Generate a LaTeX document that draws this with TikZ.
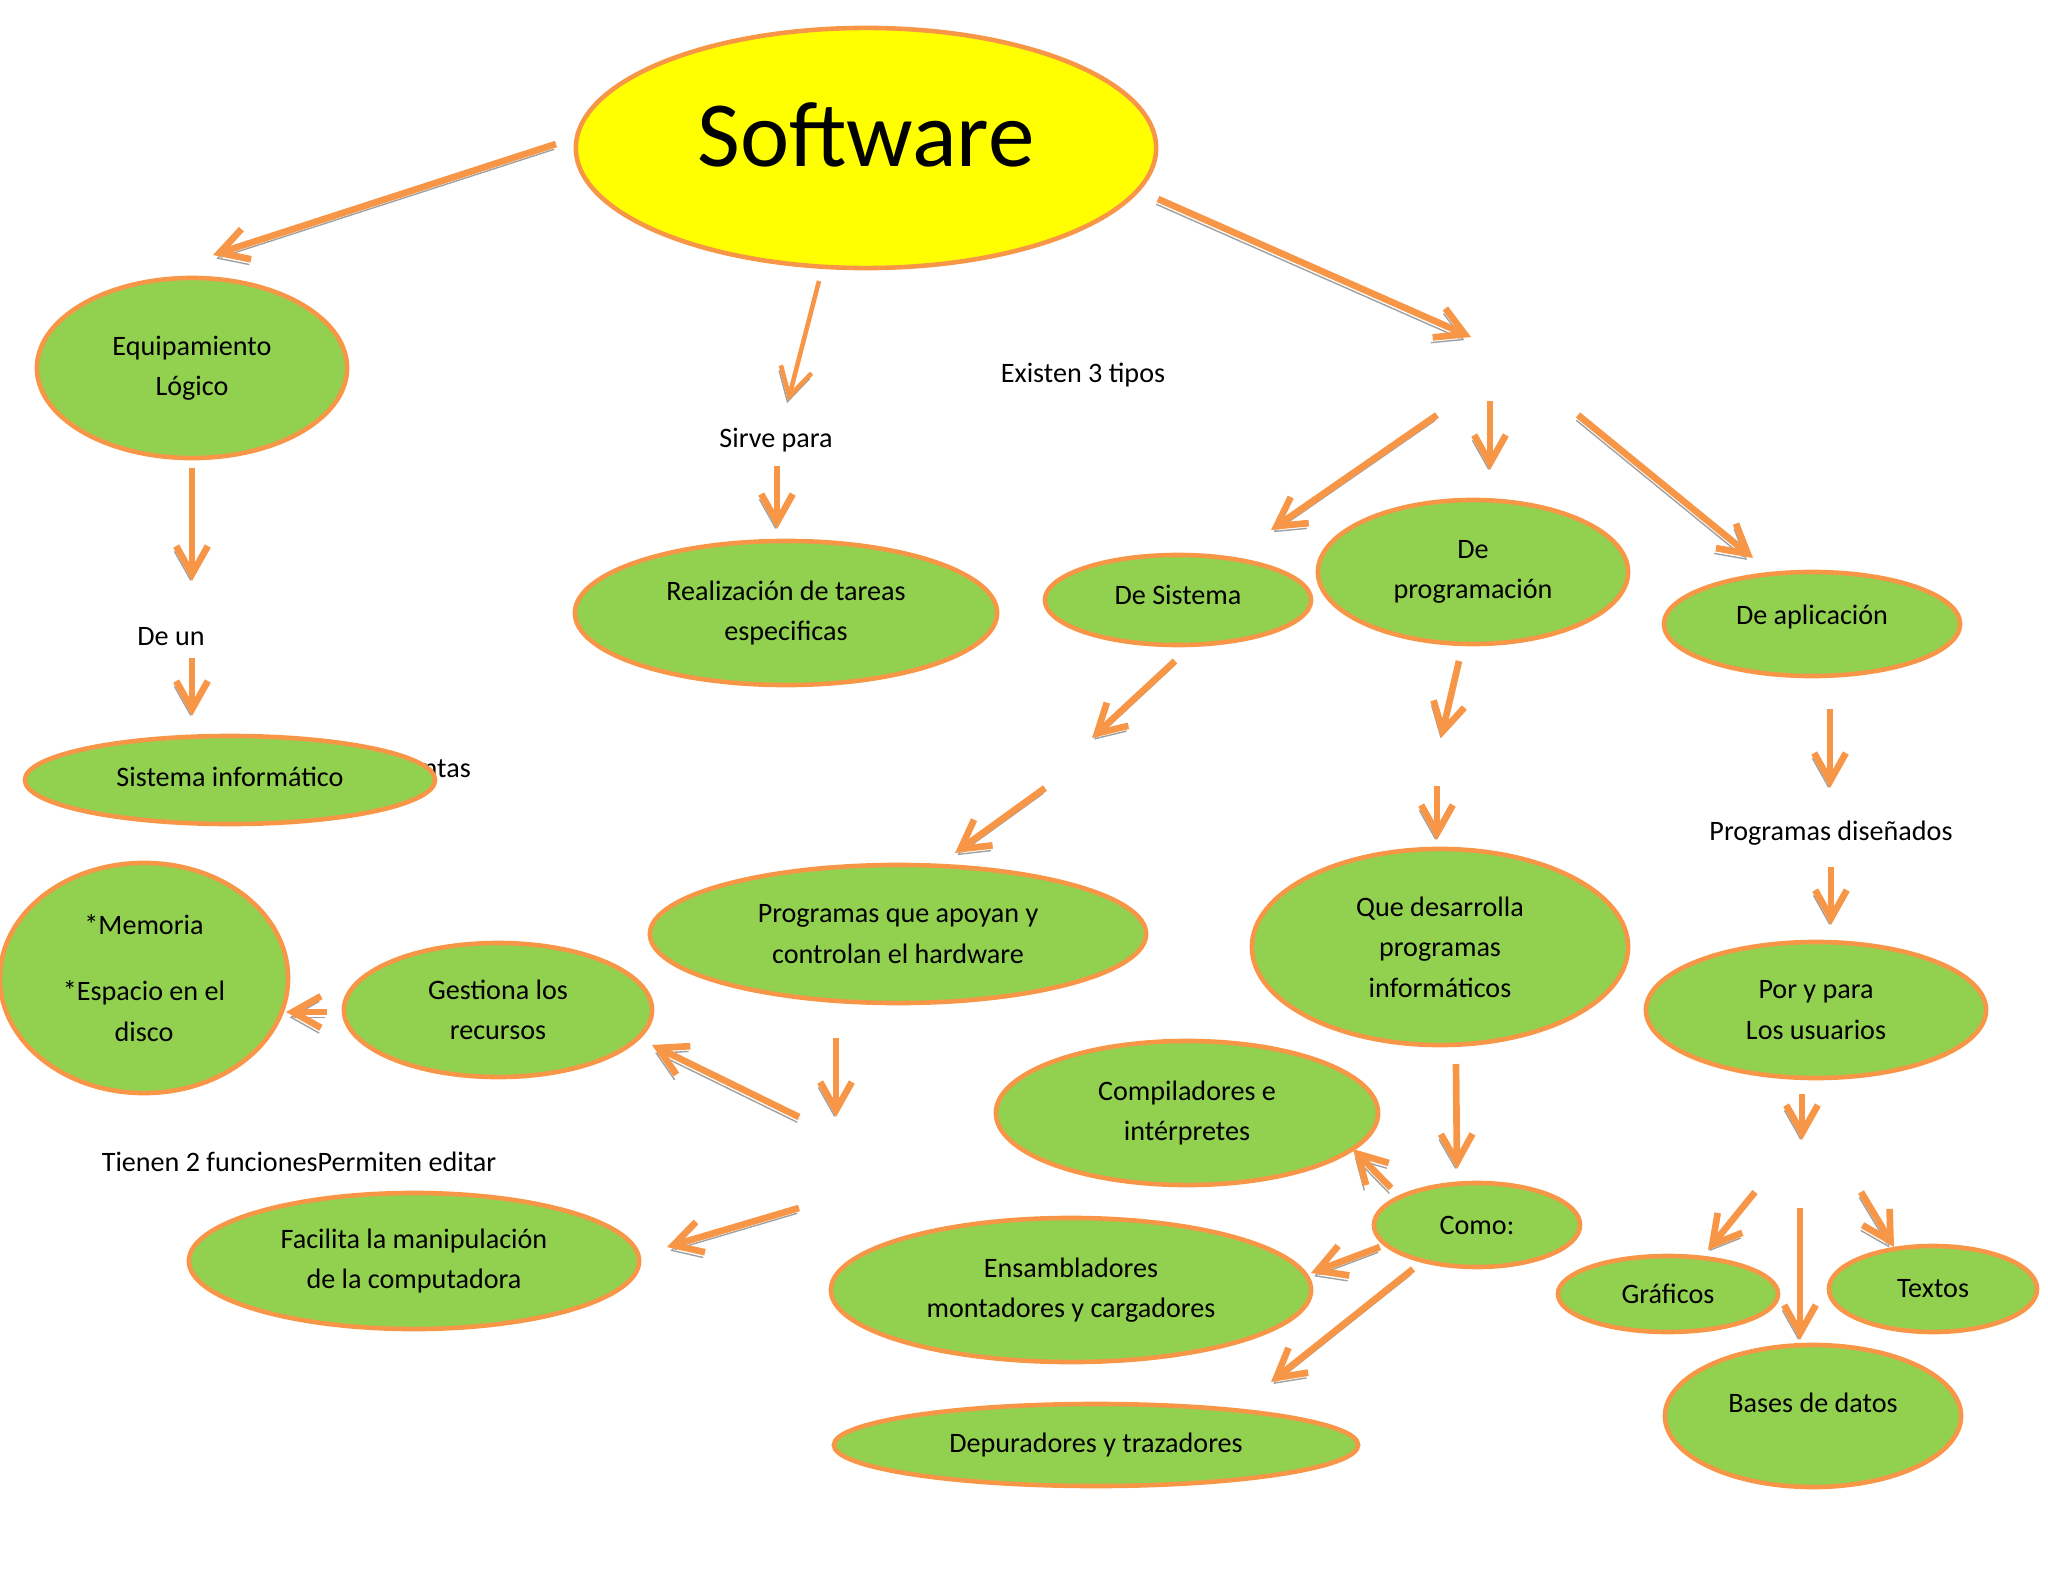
\documentclass[tikz,border=0pt]{standalone}
\usepackage{fontspec}
\setmainfont{Carlito}
\usetikzlibrary{positioning,arrows.meta,shapes.geometric}

\definecolor{leafgreen}{HTML}{92D050}
\definecolor{rimorange}{HTML}{F79646}
\definecolor{sunyellow}{HTML}{FFFF00}
\definecolor{shadowgray}{HTML}{A0A0A0}

% lift the text inside a bubble without moving the bubble
\newcommand{\lifted}[2]{\raisebox{#1}[\height][\depth]{#2}}

\begin{document}
\begin{tikzpicture}[
        x=0.01cm, y=-0.01cm,
        font=\fontsize{8}{11.5}\selectfont,
        barb/.tip={Straight Barb[length=8pt,width=9pt]},
        arrow/.style={
            -barb,
            line width=1.9pt,
            draw=rimorange,
            preaction={draw=shadowgray, -barb, transform canvas={shift={(-0.5pt,-1.5pt)}}}
        },
        bubble/.style={
            ellipse,
            draw=rimorange,
            fill=leafgreen,
            line width=1.3pt,
            inner sep=0pt,
            align=center
        },
        caption/.style={align=center, inner sep=1pt}
    ]

    \useasboundingbox (0,0) rectangle (2048,1582);

    % Step 1: the main idea
    \node[
        ellipse,
        draw=rimorange,
        fill=sunyellow,
        line width=1.3pt,
        inner sep=0pt,
        minimum width=5.8cm,
        minimum height=2.4cm,
        font=\fontsize{26.5}{30}\selectfont
    ] (soft) at (866,148) {\lifted{3.7pt}{Software}};

    % Step 2: left branch
    \node[bubble, minimum width=3.1cm, minimum height=1.8cm] (equip) at (192,368) {Equipamiento\\L\'ogico};
    \node[caption] (deun) at (171,637) {De un};
    \node[caption, anchor=east] (ntas) at (475,769) {ntas};
    \node[bubble, minimum width=4.1cm, minimum height=0.88cm] (sisinf) at (230,780) {\lifted{1pt}{Sistema inform\'atico}};

    % Step 3: middle branch
    \node[caption] (sirve) at (776,440) {Sirve para};
    \node[bubble, minimum width=4.22cm, minimum height=1.44cm] (tareas) at (786,613) {Realizaci\'on de tareas\\especificas};
    \node[caption] (tipos) at (1083,375) {Existen 3 tipos};

    % Step 4: the three kinds
    \node[bubble, minimum width=2.66cm, minimum height=0.9cm] (desis) at (1178,600) {\lifted{1.5pt}{De Sistema}};
    \node[bubble, minimum width=3.1cm, minimum height=1.44cm] (deprog) at (1473,572) {De\\programaci\'on};
    \node[bubble, minimum width=2.96cm, minimum height=1.04cm] (deapl) at (1812,624) {\lifted{2pt}{De aplicaci\'on}};

    % Step 5: system software
    \node[bubble, minimum width=4.96cm, minimum height=1.38cm] (hard) at (898,934) {Programas que apoyan y\\controlan el hardware};
    \node[bubble, minimum width=3.08cm, minimum height=1.34cm] (gest) at (498,1010) {Gestiona los\\recursos};
    \node[bubble, minimum width=2.88cm, minimum height=2.3cm] (memo) at (144,978) {*Memoria\\[7.4pt]*Espacio en el\\disco};
    \node[caption] (funciones) at (299,1162) {Tienen 2 funcionesPermiten editar};
    \node[bubble, minimum width=4.5cm, minimum height=1.36cm] (facil) at (414,1261) {Facilita la manipulaci\'on\\de la computadora};

    % Step 6: programming software
    \node[bubble, minimum width=3.76cm, minimum height=1.96cm] (quedes) at (1440,947) {Que desarrolla\\programas\\inform\'aticos};
    \node[bubble, minimum width=3.82cm, minimum height=1.44cm] (compil) at (1187,1113) {Compiladores e\\int\'erpretes};
    \node[bubble, minimum width=2.06cm, minimum height=0.84cm] (como) at (1477,1225) {Como:};
    \node[bubble, minimum width=4.8cm, minimum height=1.44cm] (ensam) at (1071,1290) {Ensambladores\\montadores y cargadores};
    \node[bubble, minimum width=5.24cm, minimum height=0.82cm] (depur) at (1096,1445) {Depuradores y trazadores};

    % Step 7: application software
    \node[caption] (disen) at (1831,833) {Programas dise\~nados};
    \node[bubble, minimum width=3.4cm, minimum height=1.36cm] (usuar) at (1816,1010) {Por y para\\Los usuarios};
    \node[bubble, minimum width=2.2cm, minimum height=0.76cm] (graf) at (1668,1294) {Gr\'aficos};
    \node[bubble, minimum width=2.08cm, minimum height=0.86cm] (textos) at (1933,1289) {Textos};
    \node[bubble, minimum width=2.96cm, minimum height=1.42cm] (bases) at (1813,1416) {\lifted{3.7pt}{Bases de datos}};

    % free ends of the connectors
    \coordinate (soft-l) at (556,144);
    \coordinate (equip-in) at (213,255);
    \coordinate (soft-b) at (819,281);
    \coordinate (sirve-in) at (788,401);
    \coordinate (soft-r) at (1158,199);
    \coordinate (tipos-in) at (1471,337);
    \coordinate (equip-out) at (192,468);
    \coordinate (deun-in) at (192,581);
    \coordinate (deun-out) at (192,658);
    \coordinate (sisinf-in) at (192,716);
    \coordinate (sirve-out) at (777,466);
    \coordinate (tareas-in) at (777,529);
    \coordinate (tipos-l) at (1437,415);
    \coordinate (desis-in) at (1271,530);
    \coordinate (tipos-m) at (1490,401);
    \coordinate (deprog-in) at (1490,470);
    \coordinate (tipos-r) at (1578,415);
    \coordinate (deapl-in) at (1753,558);
    \coordinate (desis-out) at (1175,661);
    \coordinate (desis-mid) at (1092,738);
    \coordinate (hard-top) at (1045,788);
    \coordinate (hard-in) at (955,853);
    \coordinate (deprog-out) at (1459,661);
    \coordinate (deprog-mid) at (1441,738);
    \coordinate (quedes-top) at (1437,786);
    \coordinate (quedes-in) at (1437,840);
    \coordinate (quedes-out) at (1456,1064);
    \coordinate (como-in) at (1457,1169);
    \coordinate (como-ul) at (1391,1188);
    \coordinate (compil-in) at (1353,1149);
    \coordinate (como-l) at (1380,1247);
    \coordinate (ensam-in) at (1311,1273);
    \coordinate (como-dl) at (1413,1269);
    \coordinate (depur-in) at (1271,1382);
    \coordinate (deapl-out) at (1830,709);
    \coordinate (disen-in) at (1830,788);
    \coordinate (disen-out) at (1831,867);
    \coordinate (usuar-in) at (1831,925);
    \coordinate (usuar-out) at (1802,1094);
    \coordinate (usuar-mid) at (1802,1140);
    \coordinate (split-l) at (1755,1192);
    \coordinate (graf-in) at (1708,1250);
    \coordinate (split-m) at (1800,1208);
    \coordinate (bases-in) at (1800,1340);
    \coordinate (split-r) at (1861,1192);
    \coordinate (textos-in) at (1894,1247);
    \coordinate (hard-out) at (836,1038);
    \coordinate (hard-mid) at (836,1117);
    \coordinate (fork-a) at (799,1117);
    \coordinate (gest-in) at (652,1045);
    \coordinate (gest-out) at (327,1012);
    \coordinate (memo-in) at (286,1012);
    \coordinate (fork-b) at (799,1208);
    \coordinate (facil-in) at (667,1247);

    % connectors
    \draw[arrow] (soft-l) -- (equip-in);
    \draw[arrow, line width=1.3pt] (soft-b) -- (sirve-in);
    \draw[arrow] (soft-r) -- (tipos-in);
    \draw[arrow] (equip-out) -- (deun-in);
    \draw[arrow] (deun-out) -- (sisinf-in);
    \draw[arrow] (sirve-out) -- (tareas-in);
    \draw[arrow] (tipos-l) -- (desis-in);
    \draw[arrow] (tipos-m) -- (deprog-in);
    \draw[arrow] (tipos-r) -- (deapl-in);
    \draw[arrow] (desis-out) -- (desis-mid);
    \draw[arrow] (hard-top) -- (hard-in);
    \draw[arrow] (deprog-out) -- (deprog-mid);
    \draw[arrow] (quedes-top) -- (quedes-in);
    \draw[arrow] (quedes-out) -- (como-in);
    \draw[arrow] (como-ul) -- (compil-in);
    \draw[arrow] (como-l) -- (ensam-in);
    \draw[arrow] (como-dl) -- (depur-in);
    \draw[arrow] (deapl-out) -- (disen-in);
    \draw[arrow] (disen-out) -- (usuar-in);
    \draw[arrow] (usuar-out) -- (usuar-mid);
    \draw[arrow] (split-l) -- (graf-in);
    \draw[arrow] (split-m) -- (bases-in);
    \draw[arrow] (split-r) -- (textos-in);
    \draw[arrow] (hard-out) -- (hard-mid);
    \draw[arrow] (fork-a) -- (gest-in);
    \draw[arrow] (gest-out) -- (memo-in);
    \draw[arrow] (fork-b) -- (facil-in);

\end{tikzpicture}
\end{document}
